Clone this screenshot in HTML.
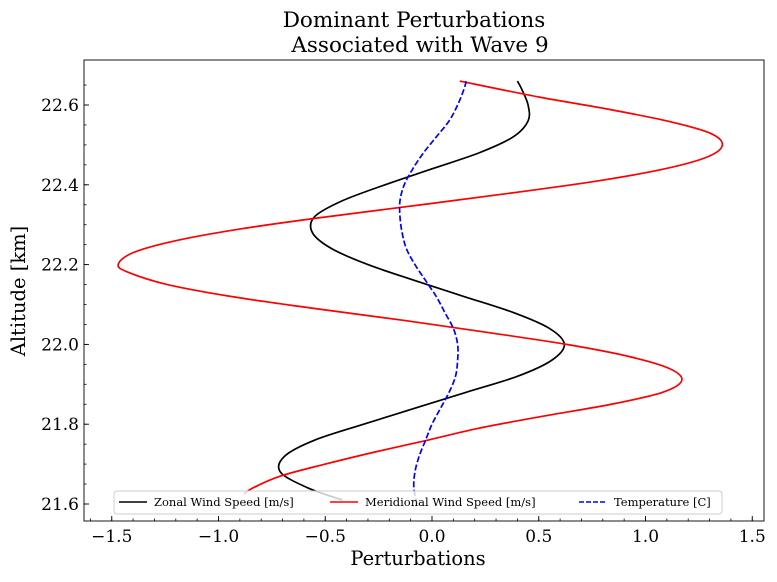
<!DOCTYPE html>
<html><head><meta charset="utf-8"><style>
body{margin:0;background:#fff;}
svg{font-family:"DejaVu Serif","Liberation Serif",serif;}
</style></head><body>
<svg id="chart" width="777" height="577" xmlns="http://www.w3.org/2000/svg">
<rect width="777" height="577" fill="#fff"/>
<text x="414" y="27" text-anchor="middle" font-size="21.5">Dominant Perturbations</text>
<text x="420" y="52" text-anchor="middle" font-size="21.5">Associated with Wave 9</text>
<g id="plot"></g>
</svg>
<script>
const altZonal=[21.61,21.64,21.68,21.72,21.76,21.80,21.84,21.88,21.92,21.96,22.00,22.04,22.08,22.12,22.16,22.20,22.24,22.28,22.32,22.36,22.40,22.44,22.48,22.52,22.56,22.60,22.64,22.66];
const zonal=[-0.42,-0.58,-0.71,-0.69,-0.55,-0.32,-0.08,0.16,0.40,0.56,0.62,0.55,0.38,0.15,-0.08,-0.30,-0.47,-0.56,-0.55,-0.42,-0.22,0.00,0.22,0.38,0.45,0.45,0.42,0.40];
const altMerid=[21.625,21.64,21.67,21.70,21.73,21.76,21.79,21.82,21.85,21.88,21.91,21.94,21.97,22.00,22.03,22.06,22.09,22.12,22.15,22.18,22.20,22.23,22.26,22.29,22.32,22.35,22.38,22.41,22.44,22.47,22.50,22.53,22.56,22.59,22.62,22.66];
const merid=[-0.88,-0.84,-0.71,-0.50,-0.27,-0.02,0.22,0.52,0.84,1.08,1.17,1.11,0.92,0.63,0.26,-0.13,-0.55,-0.94,-1.24,-1.42,-1.47,-1.40,-1.20,-0.89,-0.49,-0.05,0.38,0.78,1.09,1.29,1.36,1.30,1.10,0.82,0.50,0.13];
const altTemp=[21.60,21.64,21.68,21.72,21.76,21.80,21.84,21.88,21.92,21.96,22.00,22.04,22.08,22.12,22.16,22.20,22.24,22.28,22.32,22.36,22.40,22.44,22.48,22.52,22.56,22.60,22.64,22.66];
const temp=[-0.07,-0.085,-0.08,-0.06,-0.03,0.00,0.04,0.08,0.11,0.12,0.12,0.10,0.06,0.02,-0.03,-0.08,-0.12,-0.14,-0.15,-0.15,-0.13,-0.09,-0.04,0.02,0.08,0.12,0.15,0.16];
const xTicks=[-1.5,-1.0,-0.5,0.0,0.5,1.0,1.5];
const yTicks=[21.6,21.8,22.0,22.2,22.4,22.6];

const NS="http://www.w3.org/2000/svg";
const L=84,R=764,T=60,B=521;
const X=v=>432+v*213.5;
const Y=v=>504-(v-21.6)*399;
const g=document.getElementById('plot');
function mk(tag,at,parent){const e=document.createElementNS(NS,tag);for(const k in at)e.setAttribute(k,at[k]);(parent||g).appendChild(e);return e;}
function smooth(xs,ys){
  const p=xs.map((x,i)=>[X(x),Y(ys[i])]);
  let d=`M${p[0][0]},${p[0][1]}`;
  for(let i=0;i<p.length-1;i++){
    const p0=p[i-1]||p[i],p1=p[i],p2=p[i+1],p3=p[i+2]||p2;
    d+=`C${p1[0]+(p2[0]-p0[0])/6},${p1[1]+(p2[1]-p0[1])/6} ${p2[0]-(p3[0]-p1[0])/6},${p2[1]-(p3[1]-p1[1])/6} ${p2[0]},${p2[1]}`;
  }
  return d;
}
let e;
e=mk('path',{d:smooth(zonal,altZonal),fill:'none',stroke:'#000','stroke-width':1.7});


e=mk('path',{d:smooth(merid,altMerid),fill:'none',stroke:'#f00','stroke-width':1.7});


e=mk('path',{d:smooth(temp,altTemp),fill:'none',stroke:'#00f','stroke-width':1.7,'stroke-dasharray':'6,2.5'});


for(let v=-1.6;v<=1.55;v+=0.1){const x=X(v);if(x<L||x>R)continue;mk('line',{x1:x,x2:x,y1:B,y2:B-2.5,stroke:'#000','stroke-width':0.8});}
for(let v=21.55;v<=22.7;v+=0.05){const y=Y(v);if(y<T||y>B)continue;mk('line',{x1:L,x2:L+2.5,y1:y,y2:y,stroke:'#000','stroke-width':0.8});}
xTicks.forEach(v=>{const x=X(v);mk('line',{x1:x,x2:x,y1:B,y2:B-5,stroke:'#000','stroke-width':0.9});
  const t=mk('text',{x:x,y:B+21,'text-anchor':'middle','font-size':17});t.textContent=(v<0?'\u2212':'')+Math.abs(v).toFixed(1);
  
  });
yTicks.forEach(v=>{const y=Y(v);mk('line',{x1:L,x2:L+5,y1:y,y2:y,stroke:'#000','stroke-width':0.9});
  const t=mk('text',{x:L-5,y:y+6,'text-anchor':'end','font-size':17});t.textContent=v.toFixed(1);
  
  });
e=mk('rect',{x:L,y:T,width:R-L,height:B-T,fill:'none',stroke:'#000','stroke-width':0.9});


e=mk('text',{x:418,y:565,'text-anchor':'middle','font-size':19.5});e.textContent='Perturbations';


e=mk('text',{x:25,y:291,'text-anchor':'middle','font-size':19.5,transform:'rotate(-90 25 291)'});e.textContent='Altitude [km]';


const lg=mk('g',{});


mk('rect',{x:114,y:491,width:608,height:23,rx:3,fill:'#fff','fill-opacity':0.8,stroke:'#ccc'},lg);
[['Zonal Wind Speed [m/s]','#000',null,119],['Meridional Wind Speed [m/s]','#f00',null,330],['Temperature [C]','#00f','5,2',579]].forEach(([lab,c,da,x0])=>{
  const a={x1:x0,x2:x0+28,y1:502,y2:502,stroke:c,'stroke-width':1.6};if(da)a['stroke-dasharray']=da;
  mk('line',a,lg);
  const t=mk('text',{x:x0+35,y:506,'font-size':11.5},lg);t.textContent=lab;
  
  
});
</script>
</body></html>
